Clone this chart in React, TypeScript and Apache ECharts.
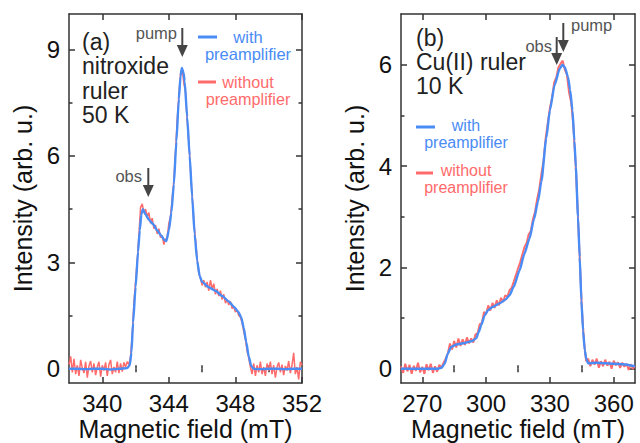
import React, { useEffect, useRef } from "react";
import * as echarts from "echarts";

const FONT = '"Liberation Sans", Arial, Helvetica, sans-serif';
const BLUE = "#4a8cf5";
const RED = "#ff6b6b";
const AXIS = "#333333";
const INK = "#111111";
const ARROW = "#454545";

// ---------- Panel (a): nitroxide ruler, 50 K ----------
const nitroxideXMajor = [340, 344, 348, 352];
const nitroxideXMinor = [342, 346, 350];
const nitroxideYMajor = [0, 3, 6, 9];
const nitroxideYMinor = [1.5, 4.5, 7.5];

const nitroxideWithField = [
  338.0, 338.5, 339.0, 339.5, 340.0, 340.5, 341.0, 341.5, 341.65, 341.75,
  341.85, 342.0, 342.15, 342.25, 342.35, 342.44, 342.6, 342.8, 343.05, 343.3,
  343.55, 343.75, 343.85, 344.0, 344.15, 344.3, 344.45, 344.6, 344.7, 344.78,
  344.88, 344.95, 345.1, 345.25, 345.4, 345.55, 345.7, 345.85, 346.0, 346.4,
  346.8, 347.2, 347.6, 347.9, 348.15, 348.35, 348.5, 348.65, 348.8, 348.95,
  349.1, 349.5, 350.0, 350.5, 351.0, 351.5, 352.0,
];
const nitroxideWithIntensity = [
  0.0, 0.0, -0.01, 0.0, 0.0, -0.02, 0.0, 0.02, 0.1, 0.45,
  1.3, 2.3, 3.3, 3.9, 4.35, 4.5, 4.35, 4.2, 4.08, 3.9,
  3.75, 3.62, 3.6, 3.9, 4.4, 5.2, 6.4, 7.6, 8.25, 8.48,
  8.35, 8.1, 7.1, 6.0, 4.85, 3.8, 3.05, 2.62, 2.45, 2.3,
  2.2, 2.05, 1.9, 1.75, 1.62, 1.45, 1.15, 0.75, 0.35, 0.08,
  0.0, -0.01, 0.0, 0.0, -0.01, 0.0, 0.0,
];

// without preamplifier: sampled every 0.1 mT from 338.0 mT
const nitroxideWithoutStart = 338.0;
const nitroxideWithoutStep = 0.1;
const nitroxideWithoutIntensity = [
  0.12, 0.35, -0.1, 0.28, -0.15, 0.1, -0.2, 0.25, 0.02, -0.12,
  0.2, -0.25, 0.08, 0.22, -0.1, 0.15, -0.18, 0.05, 0.2, -0.22,
  0.1, -0.05, 0.18, -0.2, 0.12, 0.25, -0.15, 0.05, -0.1, 0.2,
  -0.12, 0.15, -0.08, 0.18, 0.05, 0.2, 0.12, 0.35, 0.95, 1.85,
  2.45, 3.05, 3.75, 4.55, 4.65, 4.4, 4.5, 4.3, 4.4, 4.1,
  4.25, 3.95, 4.05, 3.8, 3.95, 3.7, 3.75, 3.5, 3.65, 3.7,
  4.1, 4.3, 4.8, 5.3, 6.1, 7.0, 7.7, 8.3, 8.45, 8.05,
  7.8, 7.0, 6.4, 5.6, 4.9, 4.15, 3.65, 3.1, 2.7, 2.55,
  2.35, 2.5, 2.3, 2.45, 2.2, 2.5, 2.25, 2.4, 2.1, 2.25,
  2.05, 2.2, 1.95, 2.1, 1.85, 1.95, 1.8, 1.9, 1.7, 1.75,
  1.6, 1.65, 1.5, 1.45, 1.3, 1.05, 0.85, 0.5, 0.3, 0.05,
  -0.15, 0.15, -0.2, 0.1, -0.1, 0.2, -0.15, 0.05, -0.2, 0.15,
  -0.05, 0.2, -0.15, 0.1, -0.25, 0.05, 0.18, -0.1, 0.12, -0.18,
  0.08, -0.05, 0.22, -0.12, 0.1, 0.45, -0.15, 0.05, -0.3, 0.2,
  0.1,
];

// ---------- Panel (b): Cu(II) ruler, 10 K ----------
const copperXMajor = [270, 300, 330, 360];
const copperXMinor = [285, 315, 345];
const copperYMajor = [0, 2, 4, 6];
const copperYMinor = [1, 3, 5];

const copperWithField = [
  260, 266, 272, 277, 279, 280.5, 282, 283.6, 286, 290,
  293.5, 295.3, 296.5, 297.7, 299.3, 300.8, 303, 306.3, 309, 311,
  313, 315.7, 318, 320.4, 322.5, 324.4, 326, 328.3, 330, 332.2,
  334.6, 335.9, 337, 338.5, 339.5, 340.6, 341.5, 342.2, 343.2, 344,
  344.8, 345.6, 346.4, 347.2, 348, 352, 356, 360, 364.5, 370,
];
const copperWithIntensity = [
  0.0, 0.0, 0.0, 0.0, 0.02, 0.1, 0.3, 0.43, 0.48, 0.51,
  0.55, 0.6, 0.72, 0.86, 1.05, 1.15, 1.22, 1.29, 1.36, 1.45,
  1.62, 1.94, 2.27, 2.57, 2.95, 3.3, 3.7, 4.55, 5.1, 5.6,
  5.92, 6.0, 5.95, 5.76, 5.5, 5.1, 4.5, 3.98, 3.0, 2.2,
  1.35, 0.75, 0.36, 0.18, 0.11, 0.12, 0.11, 0.1, 0.09, 0.05,
];

// without preamplifier: sampled every 1 mT from 260 mT
const copperWithoutStart = 260;
const copperWithoutStep = 1;
const copperWithoutIntensity = [
  0.05, -0.08, 0.1, -0.05, 0.08, -0.1, 0.06, -0.04, 0.12, -0.07,
  0.04, -0.1, 0.09, -0.03, 0.1, -0.08, 0.05, -0.06, 0.08, 0.02,
  0.12, 0.2, 0.3, 0.5, 0.38, 0.55, 0.42, 0.6, 0.45, 0.58,
  0.47, 0.62, 0.5, 0.6, 0.52, 0.68, 0.7, 0.88, 0.9, 1.12,
  1.08, 1.25, 1.15, 1.3, 1.2, 1.35, 1.25, 1.4, 1.32, 1.45,
  1.42, 1.55, 1.6, 1.72, 1.85, 1.98, 2.1, 2.25, 2.4, 2.48,
  2.65, 2.72, 2.95, 3.1, 3.35, 3.55, 3.85, 4.1, 4.55, 4.85,
  5.15, 5.35, 5.65, 5.75, 5.95, 6.02, 6.08, 5.9, 5.8, 5.45,
  5.25, 4.8, 4.1, 3.2, 2.2, 1.2, 0.55, 0.15, 0.2, 0.05,
  0.18, 0.08, 0.2, 0.02, 0.15, 0.05, 0.18, 0.06, 0.14, 0.0,
  0.16, 0.07, 0.13, 0.02, 0.12, 0.04, 0.1, -0.02, 0.09, 0.0,
  0.06,
];

const legendWith = "with\npreamplifier";
const legendWithout = "without\npreamplifier";
const panelALabel = "(a)\nnitroxide\nruler\n50 K";
const panelBLabel = "(b)\nCu(II) ruler\n10 K";

const pairs = (xs: number[], ys: number[]) => ys.map((y, i) => [xs[i], y]);
const sampled = (start: number, step: number, ys: number[]) =>
  ys.map((y, i) => [+(start + i * step).toFixed(3), y]);

function axesFor(
  grid: number,
  xr: [number, number],
  xMajor: number[],
  xMinor: number[],
  yr: [number, number],
  yMajor: number[],
  yMinor: number[]
) {
  const line = { color: AXIS, width: 1.5 };
  const common = { type: "value", gridIndex: grid, splitLine: { show: false } };
  const tick = (vals: number[], len: number) => ({
    show: true,
    inside: true,
    length: len,
    customValues: vals,
    lineStyle: { color: AXIS, width: 1.5 },
  });
  const hiddenLabel = { show: false };
  const x = [
    {
      ...common,
      min: xr[0],
      max: xr[1],
      position: "bottom",
      axisLine: { show: true, onZero: false, lineStyle: line },
      axisTick: tick(xMajor, 6),
      axisLabel: { show: true, customValues: xMajor, fontSize: 24, color: INK, fontFamily: FONT, margin: 8 },
      name: "Magnetic field (mT)",
      nameLocation: "middle",
      nameGap: 33,
      nameMoveOverlap: false,
      nameTextStyle: { fontSize: 25, color: INK, fontFamily: FONT },
    },
    { ...common, min: xr[0], max: xr[1], position: "bottom", axisLine: { show: false }, axisTick: tick(xMinor, 3.5), axisLabel: hiddenLabel },
    { ...common, min: xr[0], max: xr[1], position: "top", axisLine: { show: true, onZero: false, lineStyle: line }, axisTick: tick(xMajor, 6), axisLabel: hiddenLabel },
    { ...common, min: xr[0], max: xr[1], position: "top", axisLine: { show: false }, axisTick: tick(xMinor, 3.5), axisLabel: hiddenLabel },
  ];
  const y = [
    {
      ...common,
      min: yr[0],
      max: yr[1],
      position: "left",
      axisLine: { show: true, onZero: false, lineStyle: line },
      axisTick: tick(yMajor, 6),
      axisLabel: { show: true, customValues: yMajor, fontSize: 24, color: INK, fontFamily: FONT, margin: 9 },
      name: "Intensity (arb. u.)",
      nameLocation: "middle",
      nameGap: 34,
      nameMoveOverlap: false,
      nameTextStyle: { fontSize: 25, color: INK, fontFamily: FONT },
    },
    { ...common, min: yr[0], max: yr[1], position: "left", axisLine: { show: false }, axisTick: tick(yMinor, 3.5), axisLabel: hiddenLabel },
    { ...common, min: yr[0], max: yr[1], position: "right", axisLine: { show: true, onZero: false, lineStyle: line }, axisTick: tick(yMajor, 6), axisLabel: hiddenLabel },
    { ...common, min: yr[0], max: yr[1], position: "right", axisLine: { show: false }, axisTick: tick(yMinor, 3.5), axisLabel: hiddenLabel },
  ];
  return { x, y };
}

function txt(text: string, x: number, y: number, size: number, fill: string, align = "left", lineHeight?: number) {
  return {
    type: "text",
    x,
    y,
    silent: true,
    style: {
      text,
      fontSize: size,
      fontFamily: FONT,
      fill,
      align,
      verticalAlign: "middle",
      textAlign: align,
      textVerticalAlign: "middle",
      lineHeight: lineHeight ?? size,
    },
  };
}

function arrow(x: number, y1: number, headTop: number, tip: number, half: number) {
  return [
    { type: "line", silent: true, shape: { x1: x, y1, x2: x, y2: headTop + 1 }, style: { stroke: ARROW, lineWidth: 2 } },
    { type: "polygon", silent: true, shape: { points: [[x - half, headTop], [x + half, headTop], [x, tip]] }, style: { fill: ARROW } },
  ];
}

function legendLine(x1: number, x2: number, y: number, color: string) {
  return { type: "line", silent: true, shape: { x1, y1: y, x2, y2: y }, style: { stroke: color, lineWidth: 3 } };
}

export default function App() {
  const ref = useRef<HTMLDivElement>(null);

  useEffect(() => {
    if (!ref.current) return;
    const chart = echarts.init(ref.current, null, { renderer: "svg" });

    const a = axesFor(0, [338, 352], nitroxideXMajor, nitroxideXMinor, [-0.4, 10], nitroxideYMajor, nitroxideYMinor);
    const b = axesFor(1, [260, 370], copperXMajor, copperXMinor, [-0.28, 7], copperYMajor, copperYMinor);

    const option: any = {
      animation: false,
      backgroundColor: "#ffffff",
      grid: [
        { left: 69, top: 14, width: 233, height: 369, containLabel: false, outerBoundsMode: "none" },
        { left: 401, top: 14, width: 234, height: 369, containLabel: false, outerBoundsMode: "none" },
      ],
      xAxis: [...a.x, ...b.x],
      yAxis: [...a.y, ...b.y],
      series: [
        {
          name: "without preamplifier (a)",
          type: "line",
          xAxisIndex: 0,
          yAxisIndex: 0,
          data: sampled(nitroxideWithoutStart, nitroxideWithoutStep, nitroxideWithoutIntensity),
          symbol: "none",
          lineStyle: { color: RED, width: 1.5 },
          z: 2,
        },
        {
          name: "with preamplifier (a)",
          type: "line",
          xAxisIndex: 0,
          yAxisIndex: 0,
          data: pairs(nitroxideWithField, nitroxideWithIntensity),
          symbol: "none",
          smooth: 0.2,
          smoothMonotone: "x",
          lineStyle: { color: BLUE, width: 2.4 },
          z: 3,
        },
        {
          name: "without preamplifier (b)",
          type: "line",
          xAxisIndex: 4,
          yAxisIndex: 4,
          data: sampled(copperWithoutStart, copperWithoutStep, copperWithoutIntensity),
          symbol: "none",
          lineStyle: { color: RED, width: 1.9 },
          z: 2,
        },
        {
          name: "with preamplifier (b)",
          type: "line",
          xAxisIndex: 4,
          yAxisIndex: 4,
          data: pairs(copperWithField, copperWithIntensity),
          symbol: "none",
          smooth: 0.2,
          smoothMonotone: "x",
          lineStyle: { color: BLUE, width: 2.4 },
          z: 3,
        },
      ],
      graphic: [
        // panel (a) label block
        txt(panelALabel, 82, 78.5, 23, "#222", "left", 24.3),
        // panel (a) legend
        legendLine(198, 217, 37, BLUE),
        txt(legendWith, 248, 45.3, 16.5, BLUE, "center", 17),
        legendLine(198, 216, 82, RED),
        txt(legendWithout, 248, 90.6, 16.2, RED, "center", 16.6),
        // panel (a) arrows
        txt("pump", 177, 33, 16.5, "#555", "right"),
        ...arrow(182.3, 28, 45, 57, 5.5),
        txt("obs", 142, 176, 16.5, "#555", "right"),
        ...arrow(148.3, 168, 185, 197, 5.5),
        // panel (b) label block
        txt(panelBLabel, 416, 62.2, 23, "#222", "left", 24.2),
        // panel (b) legend
        legendLine(416, 435, 127, BLUE),
        txt(legendWith, 466, 134, 16, BLUE, "center", 16.6),
        legendLine(416, 433, 173, RED),
        txt(legendWithout, 466, 179.2, 16, RED, "center", 16.6),
        // panel (b) arrows
        txt("pump", 571, 25, 16.5, "#555"),
        ...arrow(563.3, 23, 40, 52, 5.5),
        txt("obs", 552, 46, 16.5, "#555", "right"),
        ...arrow(556.7, 37, 53, 65, 5.5),
      ],
    };

    chart.setOption(option);
    return () => chart.dispose();
  }, []);

  return (
    <div
      ref={ref}
      style={{ position: "fixed", left: 0, top: 0, width: 640, height: 443, background: "#fff" }}
    />
  );
}
